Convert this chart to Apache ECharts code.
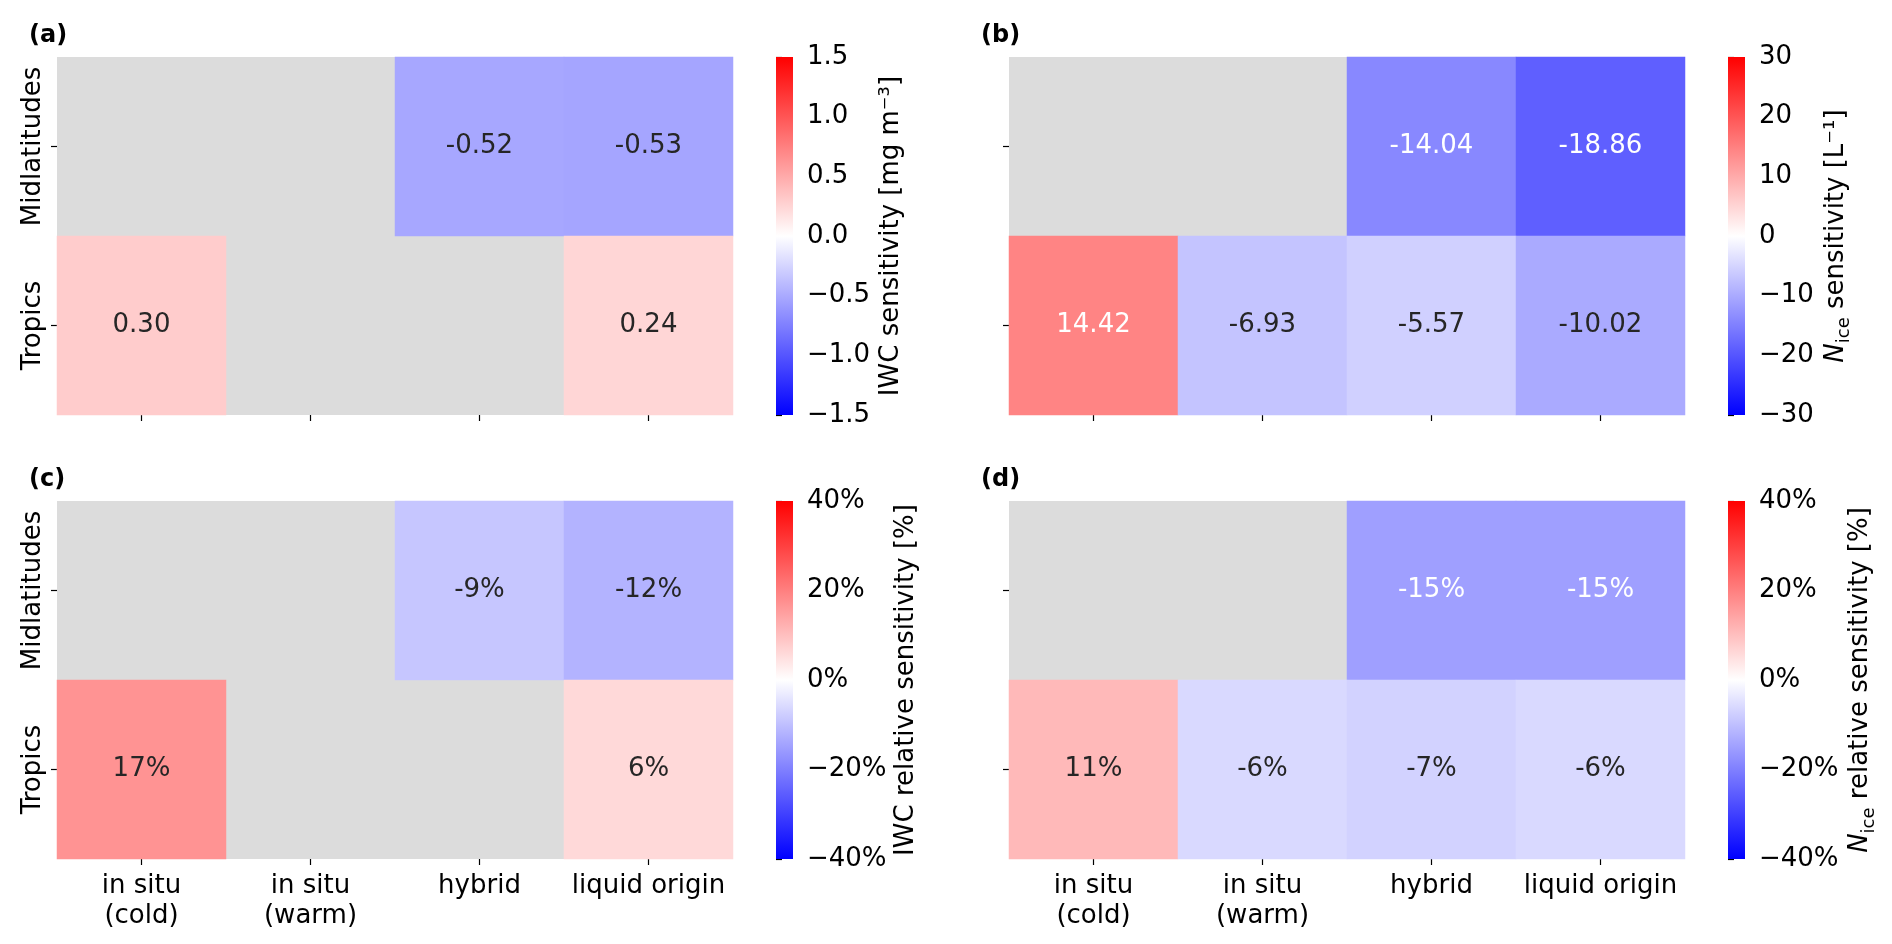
<!DOCTYPE html>
<html><head><meta charset="utf-8">
<script src="https://cdn.jsdelivr.net/npm/echarts@6/dist/echarts.min.js"></script>
<style>html,body{margin:0;padding:0;background:#fff}#c{width:1892px;height:944px}</style>
</head><body><div id="c"></div>
<script>
// ---------------- data ----------------
const categories = ['in situ\n(cold)', 'in situ\n(warm)', 'hybrid', 'liquid origin'];
const regions = ['Midlatitudes', 'Tropics'];
// rows: Midlatitudes, Tropics ; null = no data (grey)
const iwcAbs  = [[null, null, -0.52, -0.53], [0.30, null, null, 0.24]];
const niceAbs = [[null, null, -14.04, -18.86], [14.42, -6.93, -5.57, -10.02]];
const iwcRel  = [[null, null, -9, -12], [17, null, null, 6]];
const niceRel = [[null, null, -15, -15], [11, -6, -7, -6]];
const iwcAbsRange  = { min: -1.5, max: 1.5, interval: 0.5 };
const niceAbsRange = { min: -30, max: 30, interval: 10 };
const iwcRelRange  = { min: -40, max: 40, interval: 20 };
const niceRelRange = { min: -40, max: 40, interval: 20 };
const panelLabels = ['(a)', '(b)', '(c)', '(d)'];
const cbarNames = [
  'IWC sensitivity [mg m\u207B\u00B3]',
  '{i|N}{s|ice} sensitivity [L\u207B\u00B9]',
  'IWC relative sensitivity [%]',
  '{i|N}{s|ice} relative sensitivity [%]'
];
const cmapStops = ['#0000ff', '#ffffff', '#ff0000'];

// ---------------- layout / style ----------------
const FONT = 'DejaVu Sans';
const FS = 26;
const panels = [
  { data: iwcAbs,  range: iwcAbsRange,  left: 57,   top: 57,  cbLeft: 776,  fmt: v => v.toFixed(2), tick: v => v.toFixed(1), showX: false, showY: true,  gap: 85, title: [24, 19] },
  { data: niceAbs, range: niceAbsRange, left: 1009, top: 57,  cbLeft: 1728, fmt: v => v.toFixed(2), tick: v => String(v),   showX: false, showY: false, gap: 70, title: [976, 19] },
  { data: iwcRel,  range: iwcRelRange,  left: 57,   top: 501, cbLeft: 776,  fmt: v => v + '%',       tick: v => v + '%',     showX: true,  showY: true,  gap: 100, title: [24, 463] },
  { data: niceRel, range: niceRelRange, left: 1009, top: 501, cbLeft: 1728, fmt: v => v + '%',       tick: v => v + '%',     showX: true,  showY: false, gap: 95, title: [976, 463] }
];
const W = 676, H = 358, CBW = 17;

function hexToRgb(h) { return [1, 3, 5].map(i => parseInt(h.substr(i, 2), 16)); }
function cmap(t) {
  const n = cmapStops.length - 1;
  const p = Math.min(Math.max(t, 0), 1) * n;
  const i = Math.min(Math.floor(p), n - 1);
  const f = p - i;
  const a = hexToRgb(cmapStops[i]), b = hexToRgb(cmapStops[i + 1]);
  return a.map((c, k) => c + (b[k] - c) * f);
}
function textColorFor(v, r) {
  const rgb = cmap((v - r.min) / (r.max - r.min)).map(c => {
    c /= 255; return c <= 0.03928 ? c / 12.92 : Math.pow((c + 0.055) / 1.055, 2.4);
  });
  const lum = 0.2126 * rgb[0] + 0.7152 * rgb[1] + 0.0722 * rgb[2];
  return lum > 0.408 ? '#262626' : '#ffffff';
}
const minus = s => s.replace('-', '\u2212');

const grid = [], xAxis = [], yAxis = [], series = [], visualMap = [], title = [];
panels.forEach((p, i) => {
  grid.push({ left: p.left, top: p.top, width: W, height: H, show: true, backgroundColor: '#dcdcdc', borderWidth: 0 });
  title.push({ text: panelLabels[i], left: p.title[0], top: p.title[1],
    textStyle: { fontFamily: FONT, fontSize: 24, fontWeight: 'bold', color: '#000' } });
  xAxis.push({
    type: 'category', gridIndex: i, data: categories, position: 'bottom',
    axisLine: { show: false },
    axisTick: { show: true, alignWithLabel: true, length: 6, lineStyle: { color: '#000', width: 1.2 } },
    axisLabel: { show: p.showX, interval: 0, margin: 12, fontFamily: FONT, fontSize: FS, color: '#000', lineHeight: 30 },
    splitLine: { show: false }
  });
  yAxis.push({
    type: 'category', gridIndex: i, data: regions, inverse: true, position: 'left',
    axisLine: { show: false },
    axisTick: { show: true, alignWithLabel: true, length: 6, lineStyle: { color: '#000', width: 1.2 } },
    axisLabel: { show: p.showY, rotate: 90, interval: 0, margin: 11, fontFamily: FONT, fontSize: FS, color: '#000' },
    splitLine: { show: false }
  });
  const data = [];
  p.data.forEach((row, yi) => row.forEach((v, xi) => {
    if (v === null) return;
    data.push({ value: [xi, yi, v], label: { color: textColorFor(v, p.range) } });
  }));
  series.push({
    type: 'heatmap', xAxisIndex: i, yAxisIndex: i, data: data,
    label: { show: true, fontFamily: FONT, fontSize: FS, formatter: o => p.fmt(o.value[2]) },
    itemStyle: { borderWidth: 0 },
    emphasis: { disabled: true }
  });
  visualMap.push({ type: 'continuous', show: false, seriesIndex: i, dimension: 2,
    min: p.range.min, max: p.range.max, inRange: { color: cmapStops } });
});

panels.forEach((p, i) => {
  const gi = 4 + i;
  grid.push({ left: p.cbLeft, top: p.top, width: CBW, height: H });
  xAxis.push({ type: 'value', gridIndex: gi, min: 0, max: 1, show: false });
  const rich = {
    i: { fontFamily: FONT, fontSize: FS, fontStyle: 'italic', color: '#000', lineHeight: 36 },
    s: { fontFamily: FONT, fontSize: 18, color: '#000', lineHeight: 18, padding: [18, 0, 0, 0] }
  };
  const hasRich = cbarNames[i].indexOf('{') >= 0;
  yAxis.push({
    type: 'value', gridIndex: gi, position: 'right',
    min: p.range.min, max: p.range.max, interval: p.range.interval,
    axisLine: { show: false },
    axisTick: { show: true, length: 6, lineStyle: { color: '#000', width: 1.2 } },
    axisLabel: { margin: 14, fontFamily: FONT, fontSize: FS, color: '#000', formatter: v => minus(p.tick(v)) },
    splitLine: { show: false },
    name: cbarNames[i], nameLocation: 'middle', nameRotate: 90, nameGap: p.gap,
    nameTextStyle: Object.assign({ fontFamily: FONT, fontSize: FS, color: '#000' },
      hasRich ? { lineHeight: 36, rich: rich } : {})
  });
  series.push({
    type: 'custom', xAxisIndex: gi, yAxisIndex: gi, data: [[0, 0]], silent: true,
    renderItem: (params, api) => {
      const a = api.coord([0, p.range.max]);
      const b = api.coord([1, p.range.min]);
      return {
        type: 'rect',
        shape: { x: a[0], y: a[1], width: b[0] - a[0], height: b[1] - a[1] },
        style: { fill: new echarts.graphic.LinearGradient(0, 1, 0, 0,
          cmapStops.map((c, k) => ({ offset: k / (cmapStops.length - 1), color: c }))) }
      };
    }
  });
});

const chart = echarts.init(document.getElementById('c'), null, { renderer: 'canvas' });
chart.setOption({
  animation: false, backgroundColor: '#ffffff',
  title, grid, xAxis, yAxis, visualMap, series
});
</script></body></html>
